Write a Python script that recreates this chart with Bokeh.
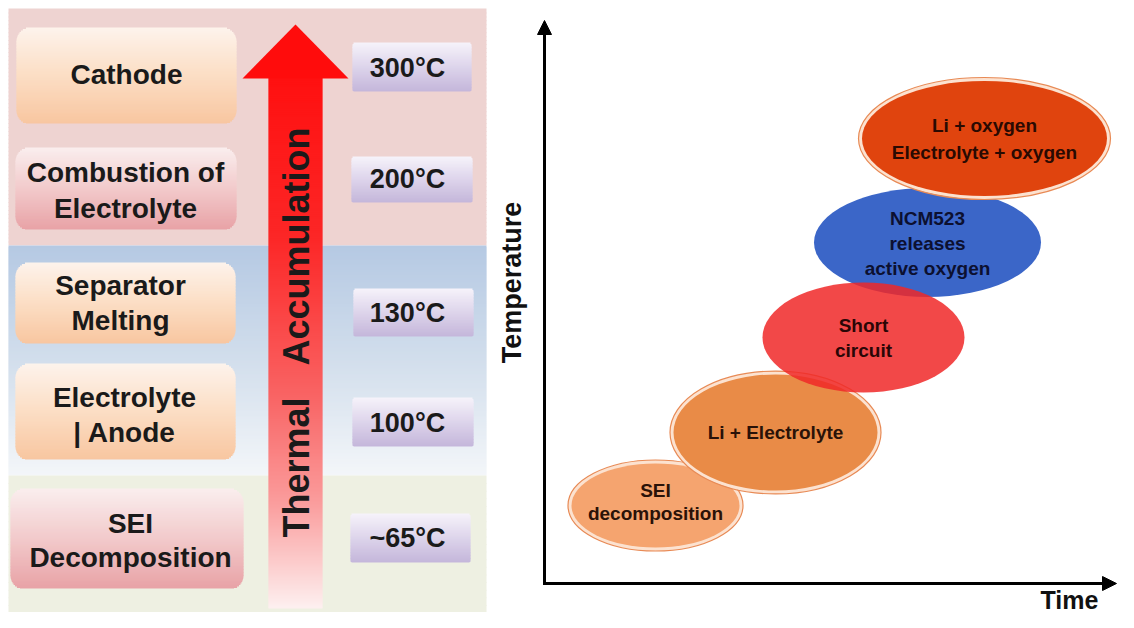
import math
from bokeh.plotting import figure
from bokeh.models import Range1d, Arrow, NormalHead, ColumnDataSource
from bokeh.embed import file_html
from bokeh.resources import INLINE
from bokeh.core.properties import value

# ---------------- data ----------------
stage_lines = [["Cathode"], ["Combustion of", "Electrolyte"], ["Separator", "Melting"],
               ["Electrolyte", "| Anode"], ["SEI", "Decomposition"]]
stage_style = ["peach", "pink", "peach", "peach", "pink"]
temperatures = ["300°C", "200°C", "130°C", "100°C", "~65°C"]
arrow_words = ["Thermal", "Accumulation"]
event_lines = [["SEI", "decomposition"], ["Li + Electrolyte"],
               ["NCM523", "releases", "active oxygen"], ["Short", "circuit"],
               ["Li + oxygen", "Electrolyte + oxygen"]]
event_colors = ["#f5a46f", "#e98b47", "#3b66c8", "#f02828", "#e0440e"]
event_text_colors = ["#2a1208", "#2a1208", "#0c1030", "#2a0606", "#2a0a02"]
event_ringed = [True, True, False, False, True]
event_alpha = [1.0, 1.0, 1.0, 0.85, 1.0]
x_title, y_title = "Time", "Temperature"

# ---------------- layout (reference pixel coordinates) ----------------
stage_box = [(16, 236, 27, 123), (15, 236, 147, 229), (15, 235, 262, 343),
             (15, 235, 363, 459), (10, 243, 488, 588)]
stage_text_x = [126, 125, 120, 124, 130]
stage_text_y = [[74], [172, 208], [285, 320], [397, 432], [523, 557]]
temp_box = [(352, 471, 42, 91), (351, 472, 156, 202), (353, 473, 288, 336),
            (352, 473, 397, 446), (350, 470, 513, 562)]
temp_text_y = [67, 178, 312, 422, 537]
temp_text_x = 407
event_geom = [(655, 505, 175, 91), (775, 432, 211, 123), (927, 242, 227, 109),
              (863, 337, 202, 110), (984, 138, 252, 122)]
event_text_y = [[490, 513], [432], [218, 243, 268], [325, 350], [125, 152]]

W, H = 1118, 612


def Y(y):
    return 628 - y


def hexrgb(h):
    return tuple(int(h[i:i + 2], 16) for i in (1, 3, 5))


def mix(stops, t):
    for (t0, c0), (t1, c1) in zip(stops, stops[1:]):
        if t <= t1:
            f = (t - t0) / (t1 - t0) if t1 > t0 else 0
            return "#%02x%02x%02x" % tuple(int(round(a + (b - a) * f)) for a, b in zip(c0, c1))
    return "#%02x%02x%02x" % stops[-1][1]


def S(*pairs):
    return [(t, hexrgb(c)) for t, c in pairs]


Q = dict(left=[], right=[], top=[], bottom=[], color=[])


def grad_box(x0, x1, y0, y1, stops, r=0, step=1.5):
    n = max(1, int(math.ceil((y1 - y0) / step)))
    h = (y1 - y0) / n
    for i in range(n):
        ya = y0 + i * h
        yb = ya + h
        ym = (ya + yb) / 2
        inset = 0
        if r > 0:
            if ym < y0 + r:
                dy = y0 + r - ym
            elif ym > y1 - r:
                dy = ym - (y1 - r)
            else:
                dy = 0
            inset = r - math.sqrt(max(r * r - dy * dy, 0))
        Q["left"].append(x0 + inset)
        Q["right"].append(x1 - inset)
        Q["top"].append(Y(ya))
        Q["bottom"].append(Y(min(yb + 1, y1)) if i < n - 1 else Y(yb))
        Q["color"].append(mix(stops, (i + 0.5) / n))


p = figure(width=W, height=H, x_range=Range1d(0, W), y_range=Range1d(628 - H, 628),
           output_backend="svg", toolbar_location=None, min_border=0,
           x_axis_location=None, y_axis_location=None)
p.grid.visible = False
p.outline_line_color = None
p.background_fill_color = "white"
p.border_fill_color = "white"

# backgrounds of left panel
grad_box(8, 486, 8, 245, S((0, "#eed3d1"), (1, "#eed3d1")), step=4)
grad_box(8, 486, 245, 475, S((0, "#b5c9e3"), (0.5, "#d2deec"), (1, "#f3f6f9")), step=2)
grad_box(8, 486, 475, 612, S((0, "#eef0e2"), (1, "#eef0e2")), step=8)

PEACH = S((0, "#fdf3ec"), (0.45, "#fce0c8"), (1, "#f8c6a0"))
PINK = S((0, "#faeeee"), (0.5, "#f2cacb"), (1, "#e8a2a6"))
LAV = S((0, "#f6f3fa"), (0.4, "#e2daee"), (1, "#c4b6da"))
for (x0, x1, y0, y1), st in zip(stage_box, stage_style):
    grad_box(x0, x1, y0, y1, PEACH if st == "peach" else PINK, r=14)
for (x0, x1, y0, y1) in temp_box:
    grad_box(x0, x1, y0, y1, LAV, r=3)
# arrow shaft
grad_box(268, 322, 76, 608, S((0, "#ff1010"), (0.3, "#fc2626"), (0.6, "#f96464"),
                              (0.8, "#fa9c9c"), (1, "#fdf0f0")), step=2)

p.quad(left="left", right="right", top="top", bottom="bottom", fill_color="color",
       line_color=None, source=ColumnDataSource(Q))

# arrow head
p.patch(x=[242, 348, 295], y=[Y(78), Y(78), Y(24)], fill_color="#ff0c0c", line_color=None)

FONT = value("Liberation Sans")

# left-panel texts
tx, ty, tt = [], [], []
for lines, x, ys in zip(stage_lines, stage_text_x, stage_text_y):
    for s, yy in zip(lines, ys):
        tx.append(x); ty.append(Y(yy)); tt.append(s)
p.text(x=tx, y=ty, text=tt, text_font=FONT, text_font_style="bold", text_font_size="28px",
       text_align="center", text_baseline="middle", text_color="#1a1a1a")
p.text(x=[temp_text_x] * len(temperatures), y=[Y(v) for v in temp_text_y], text=temperatures,
       text_font=FONT, text_font_style="bold", text_font_size="27px",
       text_align="center", text_baseline="middle", text_color="#1a1a1a")
p.text(x=[296, 296], y=[Y(467), Y(246)], text=arrow_words, angle=math.pi / 2,
       text_font=FONT, text_font_style="bold", text_font_size="36px",
       text_align="center", text_baseline="middle", text_color="#1a1a1a")

# right panel ellipses
for (cx, cy, w, h), col, ring, a in zip(event_geom, event_colors, event_ringed, event_alpha):
    if ring:
        p.ellipse(x=[cx], y=[Y(cy)], width=[w], height=[h], fill_color="#fce2d0",
                  line_color="#e88a55", line_width=1.2)
        p.ellipse(x=[cx], y=[Y(cy)], width=[w - 7], height=[h - 7], fill_color=col,
                  line_color=None)
    else:
        p.ellipse(x=[cx], y=[Y(cy)], width=[w], height=[h], fill_color=col,
                  fill_alpha=a, line_color=None)

ex, ey, et, ec = [], [], [], []
for (cx, cy, w, h), lines, ys, tc in zip(event_geom, event_lines, event_text_y, event_text_colors):
    for s, yy in zip(lines, ys):
        ex.append(cx); ey.append(Y(yy)); et.append(s); ec.append(tc)
p.text(x=ex, y=ey, text=et, text_color=ec, text_font=FONT, text_font_style="bold",
       text_font_size="19px", text_align="center", text_baseline="middle")

# axes with arrows
p.add_layout(Arrow(x_start=544, y_start=Y(584.5), x_end=544, y_end=Y(20), line_width=3,
                   line_color="black",
                   end=NormalHead(size=14, fill_color="black", line_color="black")))
p.add_layout(Arrow(x_start=542.5, y_start=Y(583), x_end=1116, y_end=Y(583), line_width=3,
                   line_color="black",
                   end=NormalHead(size=14, fill_color="black", line_color="black")))
p.text(x=[511], y=[Y(282)], text=[y_title], angle=math.pi / 2, text_font=FONT,
       text_font_style="bold", text_font_size="27px", text_align="center",
       text_baseline="middle", text_color="#111111")
p.text(x=[1069], y=[Y(599)], text=[x_title], text_font=FONT, text_font_style="bold",
       text_font_size="25px", text_align="center", text_baseline="middle",
       text_color="#111111")

open("out.html", "w").write(file_html(p, INLINE))
